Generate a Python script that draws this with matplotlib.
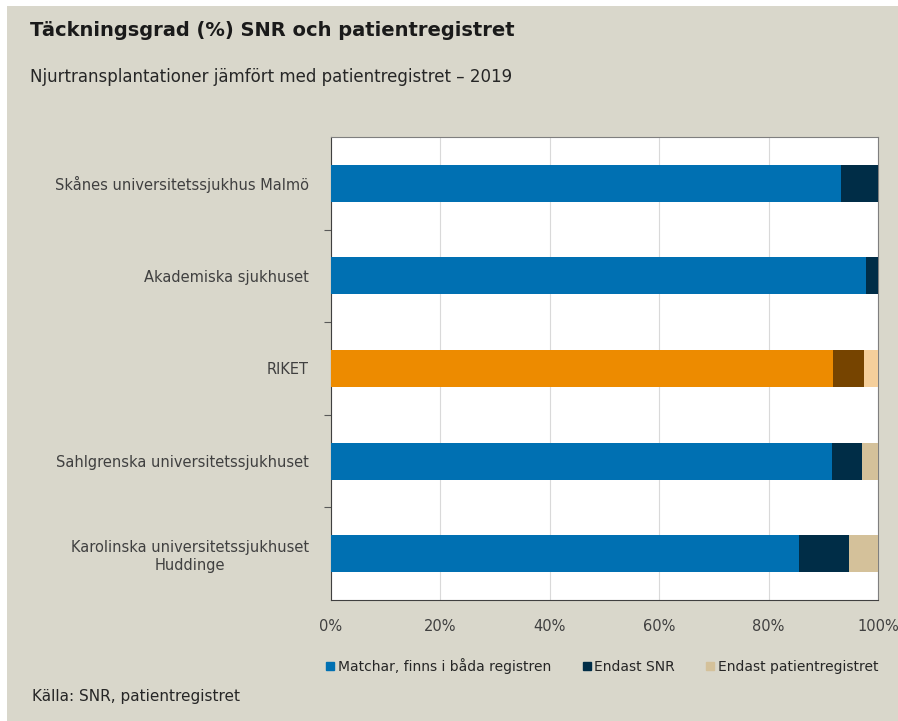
import matplotlib.pyplot as plt
import numpy as np
from matplotlib.lines import Line2D
from matplotlib.patches import Rectangle

plt.rcParams["font.family"] = ["DejaVu Sans"]

# Data (top to bottom as shown)
hospitals = [
    "Skånes universitetssjukhus Malmö",
    "Akademiska sjukhuset",
    "RIKET",
    "Sahlgrenska universitetssjukhuset",
    "Karolinska universitetssjukhuset\nHuddinge",
]
matched = [93.2, 97.8, 91.8, 91.6, 85.6]
only_snr = [6.8, 2.2, 5.6, 5.5, 9.1]
only_patient = [0.0, 0.0, 2.6, 2.9, 5.3]
series_labels = ["Matchar, finns i båda registren", "Endast SNR", "Endast patientregistret"]

BG = "#d9d7cb"
colors_normal = ["#0070b2", "#002d47", "#d4c19a"]
colors_riket = ["#ed8b00", "#764400", "#f5cf9b"]

fig = plt.figure(figsize=(8.98, 7.21), dpi=100)
fig.patch.set_facecolor("white")
fig.patches.append(Rectangle((7 / 898, 0), 1, 1 - 6 / 721, transform=fig.transFigure,
                             facecolor=BG, edgecolor="none", zorder=-10))

ax = fig.add_axes([331 / 898, 1 - 600 / 721, 547 / 898, 463 / 721])
ax.set_facecolor("white")

y = np.arange(len(hospitals))
left = np.zeros(len(hospitals))
for si, vals in enumerate([matched, only_snr, only_patient]):
    vals = np.array(vals)
    cols = [colors_riket[si] if h == "RIKET" else colors_normal[si] for h in hospitals]
    ax.barh(y, vals, left=left, height=0.4, color=cols, zorder=3)
    left += vals

ax.set_xlim(0, 100)
ax.set_ylim(len(hospitals) - 0.5, -0.5)
ax.set_xticks(np.arange(0, 101, 20))
ax.set_xticklabels([f"{v}%" for v in range(0, 101, 20)], fontsize=10.5, color="#404040")
ax.tick_params(axis="x", length=0, pad=14)
ax.grid(axis="x", color="#d9d9d9", linewidth=0.8, zorder=0)

ax.set_yticks(y)
ax.set_yticklabels(hospitals, fontsize=10.5, color="#404040", ha="right", multialignment="center")
ax.tick_params(axis="y", length=0, pad=16)
ax.set_yticks(np.arange(0.5, len(hospitals) - 0.5, 1), minor=True)
ax.tick_params(axis="y", which="minor", length=5, color="#595959", width=0.8)

for side in ["left", "bottom"]:
    ax.spines[side].set_color("#404040")
for side in ["top", "right"]:
    ax.spines[side].set_color("#7f7f7f")

fig.text(30 / 898, 1 - 31 / 721, "Täckningsgrad (%) SNR och patientregistret",
         fontsize=14, fontweight="bold", va="center", color="#1a1a1a")
fig.text(30 / 898, 1 - 77 / 721, "Njurtransplantationer jämfört med patientregistret – 2019",
         fontsize=12, va="center", color="#262626")
fig.text(32 / 898, 1 - 697 / 721, "Källa: SNR, patientregistret",
         fontsize=11, va="center", color="#262626")

handles = [Line2D([0], [0], marker="s", linestyle="none", markersize=6,
                  markerfacecolor=c, markeredgecolor=c, label=l)
           for c, l in zip(colors_normal, series_labels)]
fig.legend(handles=handles, loc="center", bbox_to_anchor=(602 / 898, 1 - 666 / 721), ncol=3,
           frameon=False, fontsize=10, handlelength=0.7, handletextpad=0.2, columnspacing=2.2,
           labelcolor="#262626")

fig.savefig("out.png", dpi=100, facecolor=fig.get_facecolor())
